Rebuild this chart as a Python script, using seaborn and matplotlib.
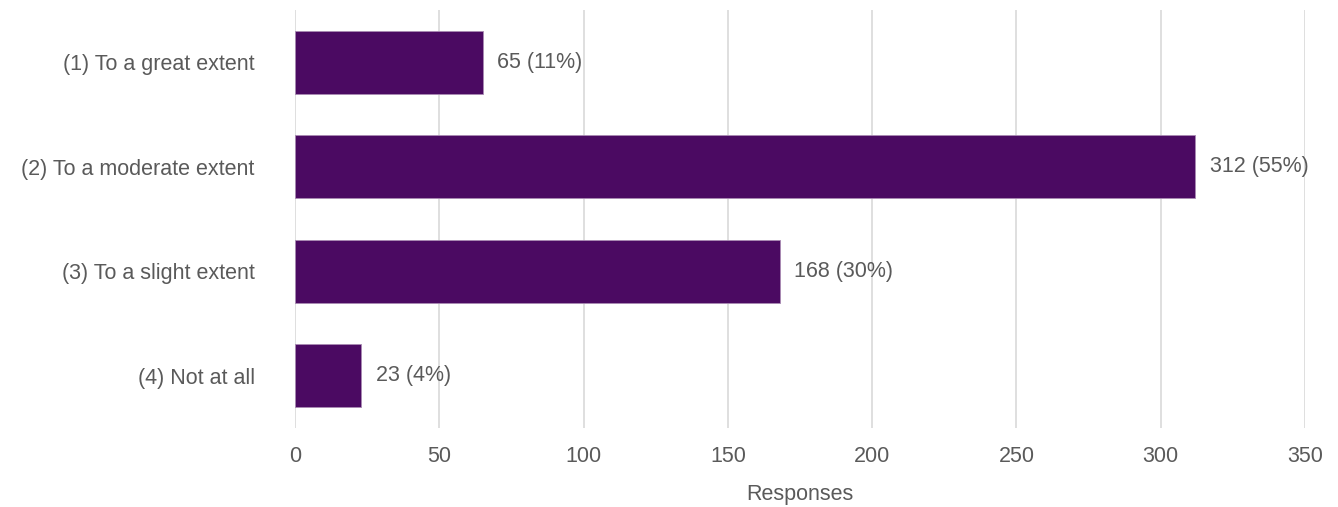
import matplotlib
matplotlib.use("Agg")
import matplotlib.pyplot as plt
import seaborn as sns
import pandas as pd

categories = ["(1) To a great extent", "(2) To a moderate extent",
              "(3) To a slight extent", "(4) Not at all"]
responses = [65, 312, 168, 23]
percents = [11, 55, 30, 4]
x_ticks = [0, 50, 100, 150, 200, 250, 300, 350]

sns.set_theme(style="white")
plt.rcParams["font.family"] = ["Liberation Sans", "DejaVu Sans"]

text_color = "#5a5a5a"
bar_color = "#4B0A62"
fs = 15.5

df = pd.DataFrame({"category": categories, "responses": responses})

fig = plt.figure(figsize=(13.38, 5.07), dpi=100)
ax = fig.add_axes([295 / 1338, 1 - 428 / 507, 1010 / 1338, 418 / 507])

ax.set_axisbelow(True)
ax.grid(axis="x", color="#d9d9d9", linewidth=1.2)
ax.grid(axis="y", visible=False)

sns.barplot(data=df, x="responses", y="category", order=categories,
            color=bar_color, saturation=1, width=0.6, ax=ax,
            edgecolor="#a98bb3", linewidth=0.6)

for i, (v, p) in enumerate(zip(responses, percents)):
    ax.text(v + 5, i, f"{v} ({p}%)", va="center", ha="left",
            fontsize=fs, color=text_color)

ax.set_xlim(0, 350)
ax.set_ylim(3.5, -0.5)
ax.set_xticks(x_ticks)
ax.set_xticklabels([str(t) for t in x_ticks])
ax.tick_params(axis="x", labelsize=fs, labelcolor=text_color, pad=13, length=0)
ax.tick_params(axis="y", labelsize=fs, labelcolor=text_color, pad=29, length=0)
for lbl in ax.get_yticklabels():
    lbl.set_horizontalalignment("right")

ax.set_xlabel("Responses", fontsize=fs, color=text_color, labelpad=12)
ax.set_ylabel("")
for s in ax.spines.values():
    s.set_visible(False)

fig.savefig("out.png", dpi=100, facecolor="white")
